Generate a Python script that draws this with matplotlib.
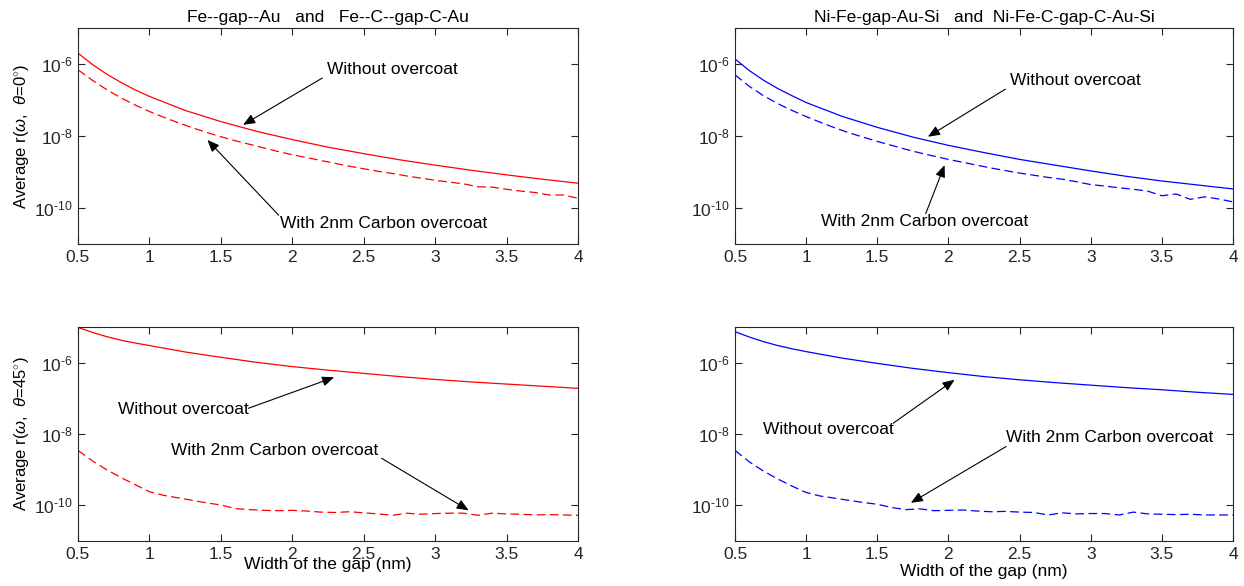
import numpy as np
import matplotlib
matplotlib.use("Agg")
import matplotlib.pyplot as plt
from matplotlib.ticker import NullLocator, FuncFormatter

plt.rcParams["font.family"] = ["Liberation Sans", "DejaVu Sans"]
plt.rcParams["mathtext.fontset"] = "custom"
plt.rcParams["mathtext.rm"] = "Liberation Sans"
plt.rcParams["mathtext.it"] = "Liberation Sans:italic"
plt.rcParams["mathtext.bf"] = "Liberation Sans:bold"
plt.rcParams["axes.unicode_minus"] = False

# gap width (nm)
gap_coarse = np.array([0.5, 0.6, 0.7, 0.8, 0.9, 1.0, 1.25, 1.5, 1.75, 2.0,
                       2.25, 2.5, 2.75, 3.0, 3.25, 3.5, 3.75, 4.0])
gap_fine = np.round(np.arange(0.5, 4.01, 0.1), 2)

# log10 of average r(w, theta) -- solid curves (no overcoat)
fe_0_bare = [-5.70, -6.01, -6.28, -6.51, -6.72, -6.90, -7.29, -7.60, -7.87, -8.10,
             -8.31, -8.49, -8.66, -8.81, -8.95, -9.08, -9.20, -9.31]
ni_0_bare = [-5.86, -6.18, -6.45, -6.68, -6.88, -7.07, -7.45, -7.76, -8.03, -8.26,
             -8.46, -8.65, -8.81, -8.97, -9.12, -9.25, -9.36, -9.47]
fe_45_bare = [-5.01, -5.15, -5.27, -5.37, -5.45, -5.52, -5.70, -5.85, -5.99, -6.11,
              -6.21, -6.30, -6.39, -6.47, -6.54, -6.60, -6.66, -6.72]
ni_45_bare = [-5.13, -5.28, -5.41, -5.52, -5.61, -5.69, -5.87, -6.02, -6.16, -6.28,
              -6.39, -6.48, -6.56, -6.63, -6.70, -6.76, -6.83, -6.89]

# log10 -- dashed curves (2nm carbon overcoat)
fe_0_carbon = [-6.16, -6.45, -6.71, -6.94, -7.14, -7.32, -7.48, -7.63, -7.77, -7.90,
               -8.02, -8.13, -8.23, -8.33, -8.43, -8.52, -8.60, -8.68, -8.76, -8.84,
               -8.91, -8.98, -9.04, -9.11, -9.17, -9.23, -9.28, -9.33, -9.41, -9.42,
               -9.48, -9.53, -9.57, -9.64, -9.64, -9.73]
ni_0_carbon = [-6.30, -6.62, -6.88, -7.10, -7.29, -7.46, -7.62, -7.77, -7.91, -8.03,
               -8.15, -8.26, -8.37, -8.47, -8.56, -8.65, -8.73, -8.81, -8.89, -8.96,
               -9.03, -9.09, -9.15, -9.20, -9.27, -9.35, -9.39, -9.44, -9.48, -9.53,
               -9.66, -9.61, -9.76, -9.69, -9.75, -9.83]
fe_45_carbon = [-8.46, -8.75, -9.00, -9.22, -9.42, -9.62, -9.72, -9.79, -9.86, -9.93,
                -9.99, -10.09, -10.12, -10.14, -10.15, -10.14, -10.16, -10.19, -10.20, -10.18,
                -10.21, -10.24, -10.28, -10.22, -10.25, -10.23, -10.22, -10.22, -10.28, -10.22,
                -10.24, -10.25, -10.27, -10.26, -10.27, -10.28]
ni_45_carbon = [-8.46, -8.78, -9.04, -9.26, -9.46, -9.64, -9.74, -9.80, -9.86, -9.92,
                -9.97, -10.06, -10.12, -10.10, -10.15, -10.14, -10.13, -10.16, -10.18, -10.17,
                -10.19, -10.20, -10.27, -10.21, -10.24, -10.23, -10.23, -10.27, -10.19, -10.24,
                -10.25, -10.26, -10.25, -10.27, -10.27, -10.27]

titles = ["Fe--gap--Au   and   Fe--C--gap-C-Au",
          "Ni-Fe-gap-Au-Si   and  Ni-Fe-C-gap-C-Au-Si"]
ylabels = [r"Average r($\omega$,  $\theta$=0$^{\circ}$)",
           r"Average r($\omega$,  $\theta$=45$^{\circ}$)"]
lbl_bare = "Without overcoat"
lbl_carbon = "With 2nm Carbon overcoat"
AX_COL = "#262626"
FS = 12.5

fig = plt.figure(figsize=(12.44, 5.86), dpi=100)
W, H = 1244, 586


def make_ax(left, top, right, bottom):
    return fig.add_axes([left / W, 1 - bottom / H, (right - left) / W, (bottom - top) / H])


def pow10_label(v, pos):
    e = int(round(np.log10(v)))
    # plain hyphen in the exponent, like the original
    return r"$\mathregular{10^{\text{-}%d}}$" % abs(e) if e < 0 else r"$\mathregular{10^{%d}}$" % e


ax_tl = make_ax(78, 28, 578, 244)
ax_tr = make_ax(735, 28, 1233, 244)
ax_bl = make_ax(78, 327, 578, 541)
ax_br = make_ax(735, 327, 1233, 541)

panels = [
    (ax_tl, fe_0_bare, fe_0_carbon, "red"),
    (ax_tr, ni_0_bare, ni_0_carbon, "blue"),
    (ax_bl, fe_45_bare, fe_45_carbon, "red"),
    (ax_br, ni_45_bare, ni_45_carbon, "blue"),
]

for ax, bare, carbon, col in panels:
    ax.semilogy(gap_coarse, 10.0 ** np.array(bare), color=col, lw=0.9)
    ax.semilogy(gap_fine, 10.0 ** np.array(carbon), color=col, lw=0.9,
                linestyle=(0, (7, 3.5)))
    ax.set_xlim(0.5, 4)
    ax.set_ylim(1e-11, 1e-5)
    ax.set_xticks([0.5, 1, 1.5, 2, 2.5, 3, 3.5, 4])
    ax.set_xticklabels(["0.5", "1", "1.5", "2", "2.5", "3", "3.5", "4"])
    ax.set_yticks([1e-10, 1e-8, 1e-6])
    ax.yaxis.set_minor_locator(NullLocator())
    ax.yaxis.set_major_formatter(FuncFormatter(pow10_label))
    ax.tick_params(direction="in", length=5, width=0.8, colors=AX_COL,
                   labelsize=FS, pad=4, top=True, right=True)
    for sp in ax.spines.values():
        sp.set_color(AX_COL)
        sp.set_linewidth(0.8)

ax_tl.set_title(titles[0], fontsize=FS, pad=4.5)
ax_tr.set_title(titles[1], fontsize=FS, pad=4.5)
ax_tl.set_ylabel(ylabels[0], fontsize=12)
ax_bl.set_ylabel(ylabels[1], fontsize=12)
ax_tl.yaxis.set_label_coords(-0.094, 0.5)
ax_bl.yaxis.set_label_coords(-0.094, 0.5)
ax_bl.set_xlabel("Width of the gap (nm)", fontsize=FS)
ax_br.set_xlabel("Width of the gap (nm)", fontsize=FS)
# the left one sits over the tick labels in the original
ax_bl.xaxis.set_label_coords(0.5, -0.075)
ax_br.xaxis.set_label_coords(0.5, -0.108)

arrow_kw = dict(arrowstyle="-|>,head_length=0.6,head_width=0.25",
                color="black", lw=0.8, mutation_scale=12, shrinkA=0, shrinkB=0)


def label(ax, text, tx, ty, tail, head):
    ax.text(tx, 10.0 ** ty, text, fontsize=FS, ha="left", va="center")
    ax.annotate("", xy=(head[0], 10.0 ** head[1]), xytext=(tail[0], 10.0 ** tail[1]),
                arrowprops=arrow_kw)


label(ax_tl, lbl_bare, 2.24, -6.14, (2.21, -6.39), (1.656, -7.69))
label(ax_tl, lbl_carbon, 1.913, -10.42, (1.905, -10.20), (1.406, -8.11))
label(ax_tr, lbl_bare, 2.434, -6.47, (2.40, -6.70), (1.856, -8.02))
label(ax_tr, lbl_carbon, 1.103, -10.37, (1.84, -10.16), (1.973, -8.81))
label(ax_bl, lbl_bare, 0.783, -7.31, (1.692, -7.28), (2.293, -6.41))
label(ax_bl, lbl_carbon, 1.148, -8.46, (2.625, -8.68), (3.235, -10.14))
label(ax_br, lbl_bare, 0.698, -7.88, (1.611, -7.70), (2.043, -6.48))
label(ax_br, lbl_carbon, 2.406, -8.10, (2.406, -8.35), (1.736, -9.93))

fig.savefig("out.png", dpi=100)
